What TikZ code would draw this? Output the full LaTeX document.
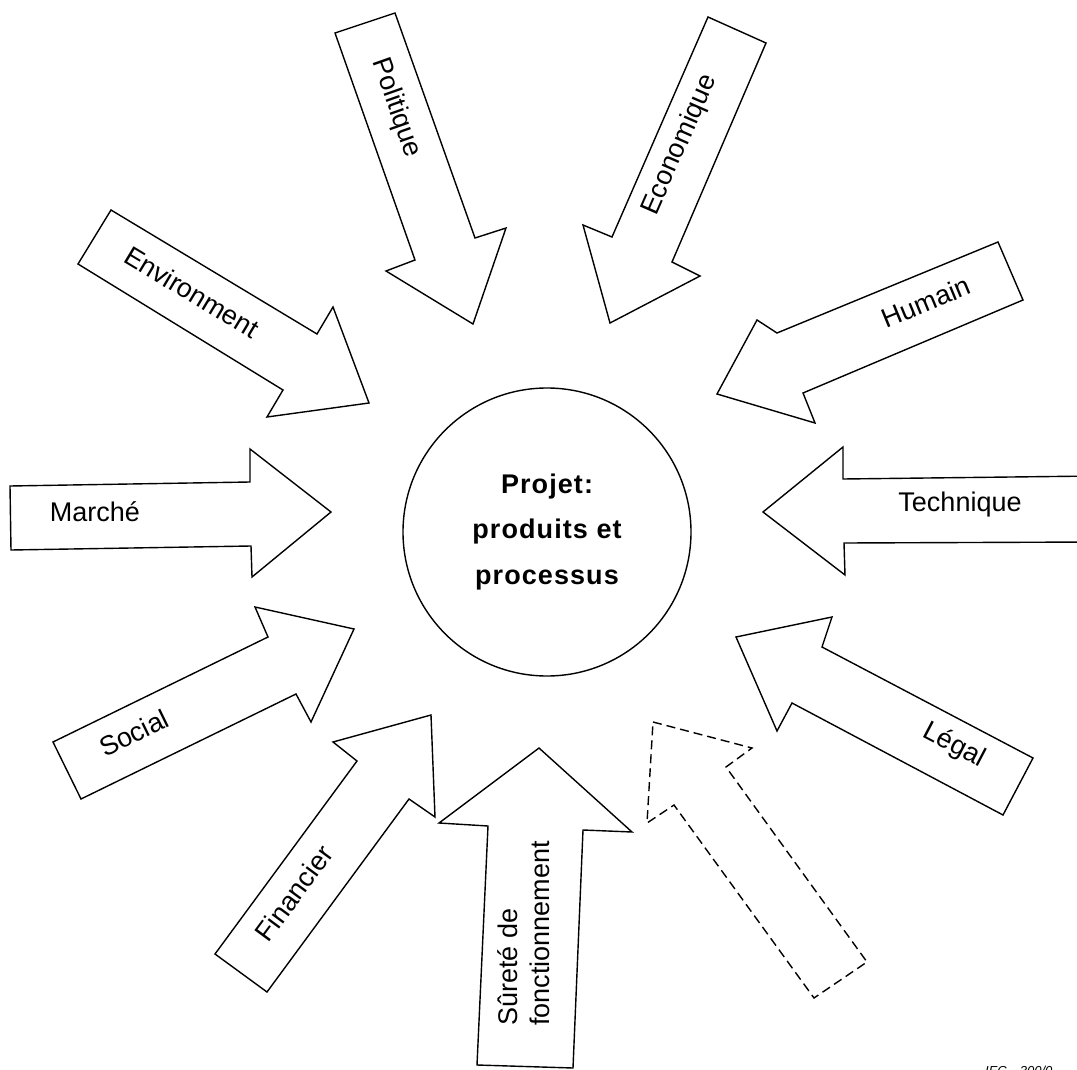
\documentclass[tikz,border=0pt]{standalone}
\usepackage{fontspec}
\setmainfont{Liberation Sans}
\begin{document}
\begin{tikzpicture}[x=1pt,y=-1pt,
  arrowshape/.style={draw, fill=white, line width=1.4pt, line join=miter},
  dashedshape/.style={arrowshape, dash pattern=on 9pt off 5pt},
  lab/.style={font=\fontsize{27}{32}\selectfont, inner sep=0pt},
  centre/.style={circle, draw, line width=1.4pt, minimum size=288pt, inner sep=0pt,
    align=center, font=\fontsize{27}{45.5}\selectfont\bfseries\addfontfeature{LetterSpace=4}},
  caption/.style={font=\fontsize{13}{15}\selectfont\itshape, inner sep=0pt, anchor=base west}]
\useasboundingbox (0,0) rectangle (1077,1070);

% Politique
\draw[arrowshape] (335,33) -- (395,13) -- (475,238) -- (506,228) -- (473,324) -- (386,271) -- (415,260) -- cycle;
% Economique
\draw[arrowshape] (708,17) -- (766,43) -- (672,262) -- (700,276) -- (610,323) -- (583,225) -- (612,237) -- cycle;
% Environment
\draw[arrowshape] (111,210) -- (317,334) -- (333,307) -- (369,403) -- (267,417) -- (283,390) -- (78,264) -- cycle;
% Humain
\draw[arrowshape] (998,242) -- (1023,300) -- (803,393) -- (815,423) -- (717,394) -- (757,320) -- (777,333) -- cycle;
% Marche
\draw[arrowshape] (10,486) -- (250,482) -- (250,449) -- (331,512) -- (252,577) -- (251,546) -- (11,550) -- cycle;
% Technique
\draw[arrowshape] (1095,476) -- (843,479) -- (843,447) -- (763,512) -- (845,575) -- (844,543) -- (1095,542);
% Social
\draw[arrowshape] (53,742) -- (268,637) -- (255,607) -- (354,629) -- (311,722) -- (296,694) -- (81,799) -- cycle;
% Financier
\draw[arrowshape] (215,954) -- (357,761) -- (333,742) -- (431,715) -- (435,817) -- (409,799) -- (267,992) -- cycle;
% Surete de fonctionnement
\draw[arrowshape] (539,748) -- (632,832) -- (583,830) -- (573,1068) -- (477,1065) -- (488,826) -- (439,823) -- cycle;
% Legal
\draw[arrowshape] (736,637) -- (832,617) -- (822,647) -- (1033,758) -- (1003,815) -- (792,703) -- (777,731) -- cycle;
% dashed (empty)
\draw[dashedshape] (653,722) -- (752,748) -- (726,767) -- (867,962) -- (814,998) -- (674,805) -- (647,823) -- cycle;

\node[centre] (projet) at (547,532) {Projet:\\produits et\\processus};

\node[lab, rotate=-70.6] (politique) at (396,108) {Politique};
\node[lab, rotate=66.4] (economique) at (680,145) {Economique};
\node[lab, rotate=-31] (environment) at (192,292) {Environment};
\node[lab, rotate=22.4] (humain) at (926,302) {Humain};
\node[lab] (marche) at (95,512) {Marché};
\node[lab] (technique) at (960,505) {Technique};
\node[lab, rotate=26] (social) at (134,733) {Social};
\node[lab, rotate=53.6] (financier) at (294,893) {Financier};
\node[lab, rotate=90, anchor=west, align=left] (surete) at (524,1026) {Sûreté de\\fonctionnement};
\node[lab, rotate=-27.7] (legal) at (954,746) {Légal};

\node[caption] (iec) at (985,1075) {IEC\quad 300/0};
\end{tikzpicture}
\end{document}
